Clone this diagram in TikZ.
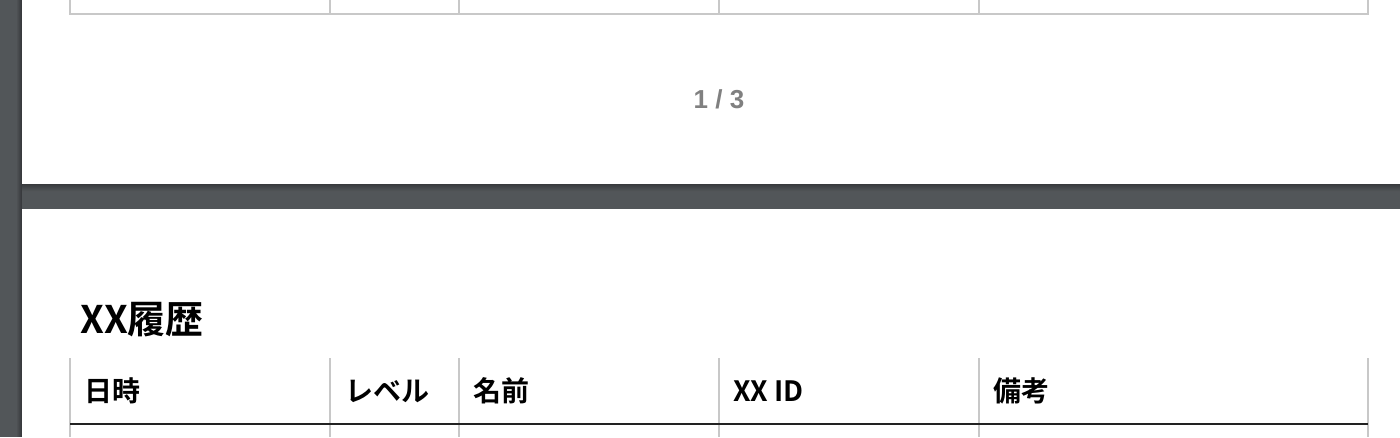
\documentclass[tikz,border=0pt]{standalone}
\usepackage{fontspec}
\setmainfont{Liberation Sans}
\newfontfamily\cjk{Noto Sans CJK JP}[BoldFont={* Bold}]
\usepackage{tikz}

\definecolor{viewer}{RGB}{82,86,89}
\definecolor{viewershade}{RGB}{56,58,61}
\definecolor{gridgray}{RGB}{200,200,200}
\definecolor{pagenumgray}{RGB}{128,128,128}
\definecolor{headrule}{RGB}{34,34,34}

\tikzset{
  gridline/.style={draw=gridgray, line width=1.5},
  headtext/.style={anchor=base west, inner sep=0.75pt, font=\cjk\bfseries\fontsize{21}{24}\selectfont},
}

\begin{document}
\begin{tikzpicture}[x=0.75pt,y=0.75pt,yscale=-1,xscale=1]
                  \useasboundingbox (0,0) rectangle (1400,437);

                  %Shape: Rectangle [id:viewer background] 
                  \fill [viewer] (0,0) rectangle (1400,437) ;
                  %Shape: Rectangle [id:shadow under page 1] 
                  \foreach \i [evaluate=\i as \p using 100-\i*14] in {0,...,7}
                    \fill [viewershade!\p!viewer] (22,184+\i) rectangle (1400,185+\i) ;
                  %Shape: Rectangle [id:shadow left of pages] 
                  \foreach \i [evaluate=\i as \p using 100-\i*20] in {0,...,4}
                    \fill [viewershade!\p!viewer] (21-\i,0) rectangle (22-\i,437) ;
                  %Shape: Rectangle [id:page 1] 
                  \fill [white] (22,0) rectangle (1400,184) ;
                  %Shape: Rectangle [id:page 2] 
                  \fill [white] (22,209) rectangle (1400,437) ;

                  %Shape: Boxed Line [id:table end page 1] 
                  \draw [gridline] (70,0) -- (70,13.5) -- (1368,13.5) -- (1368,0) ;
                  %Straight Lines [id:column lines page 1] 
                  \foreach \x in {330,459,719,979}
                    \draw [gridline] (\x,0) -- (\x,13.5) ;

                  % Text Node
                  \node [anchor=base, inner sep=0.75pt, text=pagenumgray, font=\bfseries\fontsize{19.5}{22}\selectfont] (pagenum) at (719,108) {1 / 3};

                  % Text Node
                  \node [anchor=base west, inner sep=0.75pt, font=\cjk\bfseries\fontsize{28.5}{32}\selectfont] (title) at (79,333) {XX履歴};

                  %Straight Lines [id:column lines page 2] 
                  \foreach \x in {70,330,459,719,979,1368}
                    \draw [gridline] (\x,358) -- (\x,437) ;
                  %Straight Lines [id:header rule] 
                  \draw [headrule, line width=1.8] (70,424) -- (1368,424) ;

                  % Text Node
                  \node [headtext] (date) at (83,401) {日時};
                  % Text Node
                  \node [headtext] (level) at (344,401) {レベル};
                  % Text Node
                  \node [headtext] (name) at (472,401) {名前};
                  % Text Node
                  \node [headtext] (xxid) at (732,401) {XX ID};
                  % Text Node
                  \node [headtext] (note) at (992,401) {備考};

              \end{tikzpicture}
\end{document}
